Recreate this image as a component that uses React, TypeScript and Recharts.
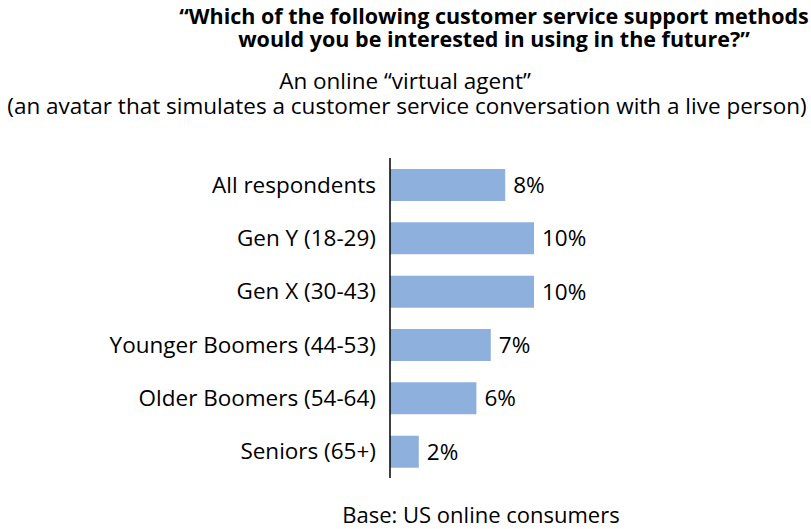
import { BarChart, Bar, XAxis, YAxis, LabelList } from 'recharts';

const categories = [
  'All respondents',
  'Gen Y (18-29)',
  'Gen X (30-43)',
  'Younger Boomers (44-53)',
  'Older Boomers (54-64)',
  'Seniors (65+)',
];
const values = [8, 10, 10, 7, 6, 2];

const titleLines = [
  '\u201CWhich of the following customer service support methods',
  'would you be interested in using in the future?\u201D',
];
const subtitleLines = [
  'An online \u201Cvirtual agent\u201D',
  '(an avatar that simulates a customer service conversation with a live person)',
];
const baseNote = 'Base: US online consumers';

const FONT = '"Open Sans", "Noto Sans", sans-serif';

// centred single-line text block at a given x centre
function Line({ text, cx, top, size, bold }: { text: string; cx: number; top: number; size: number; bold?: boolean }) {
  return (
    <div
      style={{
        position: 'absolute',
        left: cx - 500,
        width: 1000,
        top,
        textAlign: 'center',
        whiteSpace: 'nowrap',
        fontSize: size,
        lineHeight: `${size}px`,
        fontWeight: bold ? 700 : 400,
        color: '#000',
      }}
    >
      {text}
    </div>
  );
}

export default function App() {
  const data = categories.map((name, i) => ({ name, value: values[i] }));

  return (
    <div
      style={{
        position: 'absolute',
        left: 0,
        top: 0,
        width: 811,
        height: 529,
        background: '#fff',
        fontFamily: FONT,
        overflow: 'hidden',
      }}
    >
      <Line text={titleLines[0]} cx={494} top={5} size={21.5} bold />
      <Line text={titleLines[1]} cx={494} top={28} size={21.5} bold />
      <Line text={subtitleLines[0]} cx={405} top={70} size={22.5} />
      <Line text={subtitleLines[1]} cx={407} top={95} size={22.5} />

      <div style={{ position: 'absolute', left: 0, top: 0 }}>
        <BarChart
          width={811}
          height={529}
          data={data}
          layout="vertical"
          margin={{ top: 158, right: 277, bottom: 51, left: 0 }}
        >
          <XAxis type="number" domain={[0, 10]} hide />
          <YAxis
            type="category"
            dataKey="name"
            width={390}
            axisLine={{ stroke: '#000', strokeWidth: 1.5 }}
            tickLine={false}
            tickSize={0}
            tickMargin={14}
            tick={{ fill: '#000', fontSize: 22.5 }}
            interval={0}
          />
          <Bar dataKey="value" fill="#8EB0DC" barSize={32} isAnimationActive={false}>
            <LabelList
              dataKey="value"
              position="right"
              offset={8}
              fill="#000"
              fontSize={22.5}
              formatter={(v: any) => `${v}%`}
            />
          </Bar>
        </BarChart>
      </div>

      <Line text={baseNote} cx={481} top={503} size={22} />
    </div>
  );
}
